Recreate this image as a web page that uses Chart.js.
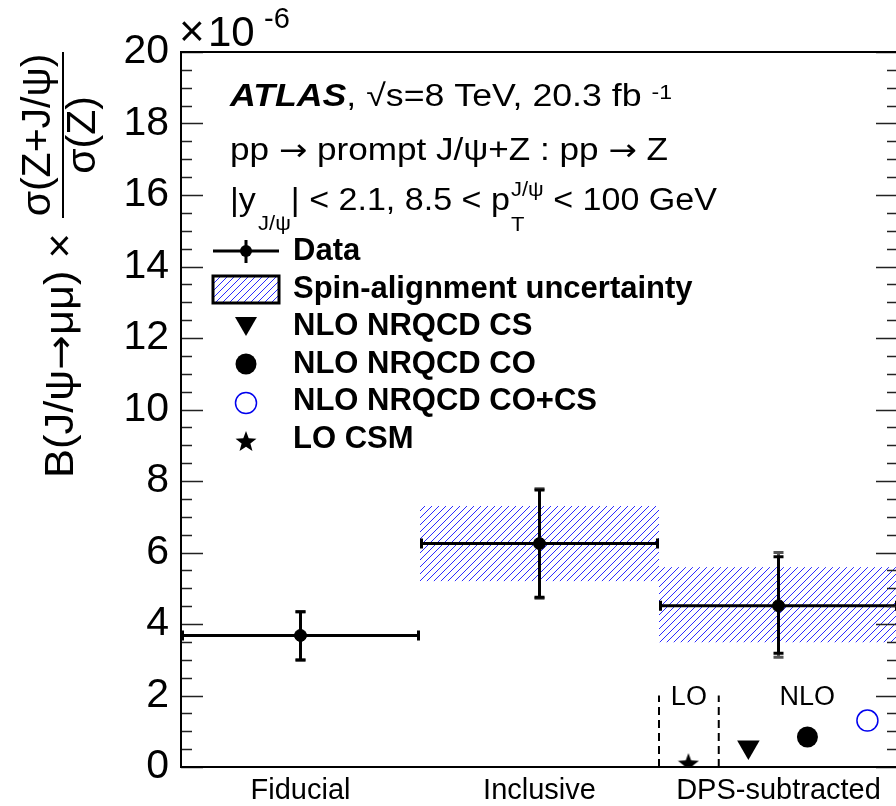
<!DOCTYPE html>
<html>
<head>
<meta charset="utf-8">
<script src="https://cdn.jsdelivr.net/npm/chart.js@4.4.1/dist/chart.umd.min.js"></script>
<style>
  html, body { margin: 0; padding: 0; background: #fff; overflow: hidden; }
  canvas { display: block; }
</style>
</head>
<body>
<canvas id="myChart" width="900" height="806"></canvas>
<script>
// measured ratio, units of 1e-6
const categories = ['Fiducial', 'Inclusive', 'DPS-subtracted'];
const binLow = [0, 1, 2];
const binHigh = [1, 2, 3];
const binCenter = [0.5, 1.5, 2.5];
const ratio = [3.68, 6.25, 4.51];
const statUp = [4.34, 7.75, 5.88];
const statDown = [2.99, 4.75, 3.18];
const totUp = [4.34, 7.78, 6.00];
const totDown = [2.99, 4.72, 3.07];
const spinUp = [null, 7.30, 5.59];
const spinDown = [null, 5.20, 3.49];

// theory predictions, drawn side by side inside the DPS-subtracted bin
const loCsm = [{x: 2.123, y: 0.11}];
const nloCS = [{x: 2.374, y: 0.56}];
const nloCO = [{x: 2.621, y: 0.84}];
const nloCOCS = [{x: 2.872, y: 1.30}];
const loBoxLeft = [{x: 2.0, y: 0}, {x: 2.0, y: 2.0}];
const loBoxRight = [{x: 2.25, y: 0}, {x: 2.25, y: 2.0}];

const yTicks = [0, 2, 4, 6, 8, 10, 12, 14, 16, 18, 20];

const FONT = '"Liberation Sans", Arial, Helvetica, sans-serif';
const ARROW = '"DejaVu Sans", sans-serif';

const ctx = document.getElementById('myChart').getContext('2d');

function makeHatch() {
    const c = document.createElement('canvas');
    c.width = 7; c.height = 7;
    const g = c.getContext('2d');
    g.strokeStyle = '#2b2bff';
    g.lineWidth = 1;
    g.beginPath();
    g.moveTo(-1, 8); g.lineTo(8, -1);
    g.stroke();
    return ctx.createPattern(c, 'repeat');
}
const hatch = makeHatch();

function makeStar(size) {
    const c = document.createElement('canvas');
    c.width = size; c.height = size;
    const g = c.getContext('2d');
    const cx = size / 2, cy = size / 2 + size * 0.05, R = size / 2, r = R * 0.42;
    g.beginPath();
    for (let i = 0; i < 10; i++) {
        const a = -Math.PI / 2 + i * Math.PI / 5;
        const rr = i % 2 ? r : R;
        g.lineTo(cx + rr * Math.cos(a), cy + rr * Math.sin(a));
    }
    g.closePath();
    g.fillStyle = '#000';
    g.fill();
    return c;
}
const star = makeStar(22);

// a line of text pieces; pieces with keep:true do not advance the pen
// the whole line is stretched so it ends at xEnd (ROOT spaces its text wider)
function textLine(g, x, y, xEnd, parts) {
    let w = 0;
    for (const p of parts) {
        g.font = p.f;
        const pw = g.measureText(p.t).width + (p.gap || 0);
        if (!p.keep) w += pw;
    }
    const k = xEnd ? (xEnd - x) / w : 1;
    g.save();
    g.translate(x, y);
    g.scale(k, 1);
    let cx = 0;
    for (const p of parts) {
        g.font = p.f;
        g.fillText(p.t, cx, p.dy || 0);
        if (!p.keep) cx += g.measureText(p.t).width + (p.gap || 0);
    }
    g.restore();
}

const atlasPlot = {
    id: 'atlasPlot',
    beforeDatasetsDraw(chart) {
        const {ctx: g, chartArea: a, scales: {x, y}} = chart;
        g.save();
        g.beginPath();
        g.rect(a.left, a.top - 5, a.right - a.left + 5, a.bottom - a.top + 5);
        g.clip();

        // spin-alignment bands
        for (let i = 0; i < categories.length; i++) {
            if (spinUp[i] == null) continue;
            const x1 = x.getPixelForValue(binLow[i]), x2 = x.getPixelForValue(binHigh[i]);
            const y1 = y.getPixelForValue(spinUp[i]), y2 = y.getPixelForValue(spinDown[i]);
            g.fillStyle = hatch;
            g.fillRect(x1, y1, x2 - x1, y2 - y1);
        }

        g.lineCap = 'butt';
        for (let i = 0; i < categories.length; i++) {
            const xc = x.getPixelForValue(binCenter[i]);
            const x1 = x.getPixelForValue(binLow[i]), x2 = x.getPixelForValue(binHigh[i]);
            const yc = y.getPixelForValue(ratio[i]);
            // total uncertainty (grey) behind statistical one
            g.strokeStyle = '#555';
            g.lineWidth = 3;
            const tu = y.getPixelForValue(totUp[i]), td = y.getPixelForValue(totDown[i]);
            g.beginPath();
            g.moveTo(xc, tu); g.lineTo(xc, td);
            g.moveTo(xc - 5, tu); g.lineTo(xc + 5, tu);
            g.moveTo(xc - 5, td); g.lineTo(xc + 5, td);
            g.stroke();
            // stat + bin width
            g.strokeStyle = '#000';
            const su = y.getPixelForValue(statUp[i]), sd = y.getPixelForValue(statDown[i]);
            g.beginPath();
            g.moveTo(xc, su); g.lineTo(xc, sd);
            g.moveTo(xc - 5, su); g.lineTo(xc + 5, su);
            g.moveTo(xc - 5, sd); g.lineTo(xc + 5, sd);
            g.moveTo(x1, yc); g.lineTo(x2, yc);
            g.moveTo(x1 + 1.5, yc - 5); g.lineTo(x1 + 1.5, yc + 5);
            g.moveTo(x2 - 1.5, yc - 5); g.lineTo(x2 - 1.5, yc + 5);
            g.stroke();
        }
        g.restore();
    },
    afterDraw(chart) {
        const {ctx: g, chartArea: a, scales: {x, y}} = chart;
        g.save();
        g.fillStyle = '#000';
        g.strokeStyle = '#000';

        // ticks on both vertical axes (ROOT style, inward)
        g.lineWidth = 1.5;
        g.strokeStyle = '#222';
        g.beginPath();
        for (let v = 0; v <= 20.001; v += 0.5) {
            const len = (Math.round(v * 2) % 4 === 0) ? 22 : 11;
            const py = Math.round(y.getPixelForValue(v)) + 0.5;
            g.moveTo(a.left, py); g.lineTo(a.left + len, py);
            g.moveTo(a.right, py); g.lineTo(a.right - len, py);
        }
        g.stroke();

        // frame
        g.strokeStyle = '#000';
        g.lineWidth = 2;
        g.strokeRect(a.left, a.top, a.right - a.left, a.bottom - a.top);

        // category labels under the bins
        g.font = '29px ' + FONT;
        g.textAlign = 'center';
        g.textBaseline = 'alphabetic';
        categories.forEach((c, i) => g.fillText(c, x.getPixelForValue(binCenter[i]), 799));

        // exponent
        g.textAlign = 'left';
        g.font = '44px ' + FONT;
        g.fillText('\u00d7', 179, 46);
        g.font = '42px ' + FONT;
        g.fillText('10', 208, 46);
        g.font = '29px ' + FONT;
        g.fillText('-6', 264, 28);

        // labels
        const R = '31px ' + FONT, S = '20px ' + FONT, A = '30px ' + ARROW;
        textLine(g, 230, 106, 672, [
            {t: 'ATLAS', f: 'italic bold 31px ' + FONT},
            {t: ', \u221As=8 TeV, 20.3 fb ', f: R},
            {t: '-1', f: S, dy: -7}
        ]);
        textLine(g, 230, 160, 668, [
            {t: 'pp ', f: R},
            {t: '\u2192', f: A},
            {t: ' prompt J/\u03c8+Z : pp ', f: R},
            {t: '\u2192', f: A},
            {t: ' Z', f: R}
        ]);
        textLine(g, 230, 210, 717, [
            {t: '|y', f: R, gap: 2},
            {t: 'J/\u03c8', f: S, dy: 20},
            {t: '| < 2.1, 8.5 < p', f: R, gap: 1},
            {t: 'T', f: S, dy: 21, keep: true},
            {t: 'J/\u03c8', f: S, dy: -14},
            {t: ' < 100 GeV', f: R}
        ]);

        // legend
        const B = 'bold 31px ' + FONT;
        const lx = 293, sx = 246;
        g.font = B;
        g.fillText('Data', lx, 260);
        g.lineWidth = 3;
        g.beginPath();
        g.moveTo(213, 251); g.lineTo(279, 251);
        g.moveTo(sx, 240); g.lineTo(sx, 263);
        g.stroke();
        g.beginPath(); g.arc(sx, 251, 6, 0, Math.PI * 2); g.fill();

        g.fillText('Spin-alignment uncertainty', lx, 298);
        g.fillStyle = hatch;
        g.fillRect(213, 276, 66, 27);
        g.strokeRect(213, 276, 66, 27);
        g.fillStyle = '#000';

        g.fillText('NLO NRQCD CS', lx, 335);
        g.beginPath();
        g.moveTo(sx - 11, 317); g.lineTo(sx + 11, 317); g.lineTo(sx, 336); g.closePath(); g.fill();

        g.fillText('NLO NRQCD CO', lx, 373);
        g.beginPath(); g.arc(sx, 364, 10.5, 0, Math.PI * 2); g.fill();

        g.fillText('NLO NRQCD CO+CS', lx, 410);
        g.strokeStyle = '#0000ee';
        g.lineWidth = 1.5;
        g.beginPath(); g.arc(sx, 403, 10.5, 0, Math.PI * 2); g.stroke();

        g.fillText('LO CSM', lx, 448);
        g.drawImage(star, sx - 11, 441 - 11);

        // LO / NLO tags
        g.font = '27px ' + FONT;
        g.textAlign = 'center';
        g.fillText('LO', x.getPixelForValue(2.125), y.getPixelForValue(1.73));
        g.fillText('NLO', x.getPixelForValue(2.62), y.getPixelForValue(1.73));

        // y axis title, rotated
        g.save();
        g.rotate(-Math.PI / 2);
        g.textAlign = 'left';
        textLine(g, -478, 73, -233, [
            {t: 'B(J/\u03c8', f: '40px ' + FONT},
            {t: '\u2192', f: '38px ' + ARROW},
            {t: '\u03bc\u03bc) \u00d7', f: '40px ' + FONT}
        ]);
        g.font = '41px ' + FONT;
        g.textAlign = 'center';
        g.fillText('\u03c3(Z+J/\u03c8)', -135, 50);
        g.fillText('\u03c3(Z)', -135, 95);
        g.restore();
        g.lineWidth = 2;
        g.strokeStyle = '#000';
        g.beginPath(); g.moveTo(63, 52); g.lineTo(63, 218); g.stroke();

        g.restore();
    }
};

const data = {
    datasets: [
        {
            label: 'Data',
            type: 'scatter',
            data: binCenter.map((v, i) => ({x: v, y: ratio[i]})),
            pointRadius: 6,
            pointBackgroundColor: '#000',
            pointBorderColor: '#000'
        },
        {
            label: 'NLO NRQCD CS',
            type: 'scatter',
            data: nloCS,
            pointStyle: 'triangle',
            rotation: 180,
            pointRadius: 13,
            pointBackgroundColor: '#000',
            pointBorderColor: '#000',
            pointBorderWidth: 0
        },
        {
            label: 'NLO NRQCD CO',
            type: 'scatter',
            data: nloCO,
            pointRadius: 10.5,
            pointBackgroundColor: '#000',
            pointBorderColor: '#000',
            pointBorderWidth: 0
        },
        {
            label: 'NLO NRQCD CO+CS',
            type: 'scatter',
            data: nloCOCS,
            pointRadius: 10.5,
            pointBackgroundColor: 'rgba(0,0,0,0)',
            pointBorderColor: '#0000ee',
            pointBorderWidth: 1.5
        },
        {
            label: 'LO CSM',
            type: 'scatter',
            data: loCsm,
            pointStyle: star,
            pointRadius: 11
        },
        {
            type: 'line',
            data: loBoxLeft,
            borderColor: '#000',
            borderWidth: 2,
            borderDash: [8, 5],
            pointRadius: 0
        },
        {
            type: 'line',
            data: loBoxRight,
            borderColor: '#000',
            borderWidth: 2,
            borderDash: [8, 5],
            pointRadius: 0
        }
    ]
};

const config = {
    type: 'scatter',
    data: data,
    options: {
        responsive: false,
        animation: false,
        events: [],
        layout: {autoPadding: false, padding: {left: 0, top: 52, right: 2, bottom: 0}},
        plugins: {
            legend: {display: false},
            tooltip: {enabled: false}
        },
        scales: {
            x: {
                type: 'linear',
                min: 0,
                max: 3,
                grid: {display: false},
                border: {display: false},
                ticks: {display: false},
                afterFit: (s) => { s.height = 39; }
            },
            y: {
                type: 'linear',
                min: 0,
                max: 20,
                grid: {display: false},
                border: {display: false},
                afterBuildTicks: (s) => { s.ticks = yTicks.map(v => ({value: v})); },
                afterFit: (s) => { s.width = 181; },
                ticks: {
                    padding: 4,
                    color: '#000',
                    font: {family: FONT, size: 41}
                }
            }
        }
    },
    plugins: [atlasPlot]
};

new Chart(ctx, config);
</script>
</body>
</html>
